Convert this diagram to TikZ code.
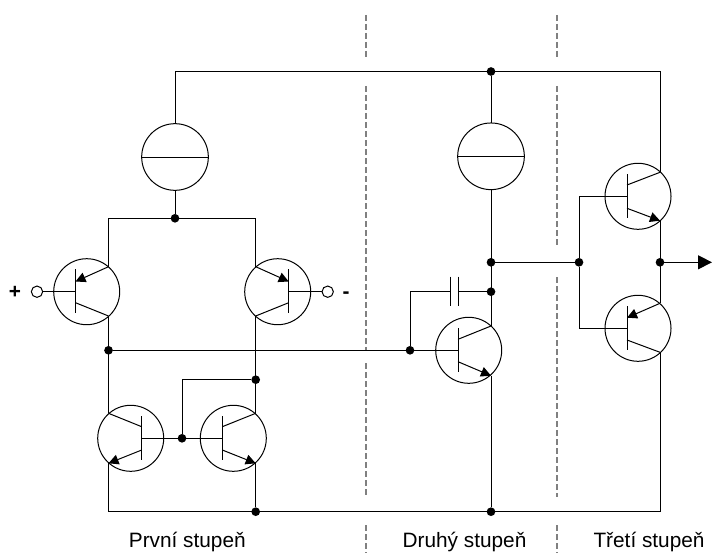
\documentclass[tikz,border=0pt]{standalone}
\usepackage{fontspec}
\setmainfont{Liberation Sans}
\usetikzlibrary{arrows.meta}
\tikzset{>={Stealth[inset=0pt,length=7.5pt,width=7.5pt]}}
\tikzset{
  wire/.style={line width=0.75pt},
  tstor/.style={draw,circle,line width=0.75pt,minimum size=49.5pt,inner sep=0pt,outer sep=0pt},
  zdroj/.style={draw,circle,line width=0.75pt,minimum size=50pt,inner sep=0pt,outer sep=0pt},
  uzel/.style={fill=black,circle,minimum size=6.5pt,inner sep=0pt,outer sep=0pt},
  svorka/.style={draw,circle,line width=0.75pt,fill=white,minimum size=8.5pt,inner sep=0pt,outer sep=0pt},
  hranice/.style={line width=1.1pt,black!50,dash pattern=on 4.5pt off 2.25pt},
  popis/.style={inner sep=0pt,anchor=base,font=\fontsize{15.6}{18}\selectfont}
}

\begin{document}
\begin{tikzpicture}[x=0.75pt,y=-0.75pt]
      \useasboundingbox (0,0) rectangle (712,556);
      % hranice stupnu
      \coordinate (d1a) at (366,15);  \coordinate (d1b) at (366,57);
      \coordinate (d1c) at (366,86);  \coordinate (d1d) at (366,351);
      \coordinate (d1e) at (366,363); \coordinate (d1f) at (366,497);
      \coordinate (d1g) at (366,525); \coordinate (d1h) at (366,553);
      \coordinate (d2a) at (557,15);  \coordinate (d2b) at (557,57);
      \coordinate (d2c) at (557,86);  \coordinate (d2d) at (557,247);
      \coordinate (d2e) at (557,277); \coordinate (d2f) at (557,497);
      \coordinate (d2g) at (557,525); \coordinate (d2h) at (557,553);
      \draw[hranice] (d1a) -- (d1b);
      \draw[hranice] (d1c) -- (d1d);
      \draw[hranice] (d1e) -- (d1f);
      \draw[hranice] (d1g) -- (d1h);
      \draw[hranice] (d2a) -- (d2b);
      \draw[hranice] (d2c) -- (d2d);
      \draw[hranice] (d2e) -- (d2f);
      \draw[hranice] (d2g) -- (d2h);
      % zdroje
      \node[zdroj] (s1) at (175,157) {};
      \draw[wire] (s1.west) -- (s1.east);
      \node[zdroj] (s2) at (491,156.3) {};
      \draw[wire] (s2.west) -- (s2.east);
      % uzly
      \node[uzel] (j1) at (175,218.3) {};
      \node[uzel] (j2) at (108.5,350.3) {};
      \node[uzel] (j3) at (255.7,379.7) {};
      \node[uzel] (j4) at (182,438.3) {};
      \node[uzel] (j5) at (255.7,511.7) {};
      \node[uzel] (j6) at (491,511.7) {};
      \node[uzel] (j7) at (491,71.5) {};
      \node[uzel] (j8) at (491,262.3) {};
      \node[uzel] (j9) at (491,291.7) {};
      \node[uzel] (j10) at (410,350.3) {};
      \node[uzel] (j11) at (579,262.3) {};
      \node[uzel] (j12) at (660,262.3) {};
      % vstup +
      \node[tstor] (q1) at (86.7,291.7) {};
      \coordinate (q1t) at (75.5,269);
      \coordinate (q1d) at (75.5,313);
      \coordinate (q1b) at (75.5,291.7);
      \coordinate (q1ei) at (75.5,281.5);
      \coordinate (q1eo) at (108.5,266.7);
      \coordinate (q1ci) at (75.5,302.7);
      \coordinate (q1co) at (108.5,316);
      \node[svorka] (in1) at (37,291.7) {};
      \node[popis] (plus) at (15,298) {\bfseries +};
      \draw[wire] (q1t) -- (q1d);
      \draw[wire,->] (q1eo) -- (q1ei);
      \draw[wire] (q1ci) -- (q1co);
      \draw[wire] (in1) -- (q1b);
      % vstup -
      \node[tstor] (q2) at (277.7,291.7) {};
      \coordinate (q2t) at (288.7,269);
      \coordinate (q2d) at (288.7,313);
      \coordinate (q2b) at (288.7,291.7);
      \coordinate (q2ei) at (288.7,281.5);
      \coordinate (q2eo) at (255.7,266.7);
      \coordinate (q2ci) at (288.7,302.7);
      \coordinate (q2co) at (255.7,316);
      \node[svorka] (in2) at (327.7,291.7) {};
      \node[popis] (minus) at (346,298.5) {\bfseries -};
      \draw[wire] (q2t) -- (q2d);
      \draw[wire,->] (q2eo) -- (q2ei);
      \draw[wire] (q2ci) -- (q2co);
      \draw[wire] (in2) -- (q2b);
      % proudove zrcadlo
      \node[tstor] (q4) at (130.7,438.3) {};
      \coordinate (q4t) at (141.7,416);
      \coordinate (q4d) at (141.7,460);
      \coordinate (q4b) at (141.7,438.3);
      \coordinate (q4ci) at (141.7,426.7);
      \coordinate (q4co) at (108.5,413.3);
      \coordinate (q4ei) at (141.7,450);
      \coordinate (q4eo) at (108.5,463.3);
      \draw[wire] (q4t) -- (q4d);
      \draw[wire] (q4ci) -- (q4co);
      \draw[wire,->] (q4ei) -- (q4eo);
      \node[tstor] (q5) at (233.3,438.3) {};
      \coordinate (q5t) at (222.3,416);
      \coordinate (q5d) at (222.3,460);
      \coordinate (q5b) at (222.3,438.3);
      \coordinate (q5ci) at (222.3,426.7);
      \coordinate (q5co) at (255.7,413.3);
      \coordinate (q5ei) at (222.3,450);
      \coordinate (q5eo) at (255.7,463.3);
      \draw[wire] (q5t) -- (q5d);
      \draw[wire] (q5ci) -- (q5co);
      \draw[wire,->] (q5ei) -- (q5eo);
      \draw[wire] (q4b) -- (q5b);
      % druhy stupen
      \node[tstor] (q3) at (468.7,350.3) {};
      \coordinate (q3t) at (458,328);
      \coordinate (q3d) at (458,372.3);
      \coordinate (q3b) at (458,350.3);
      \coordinate (q3ci) at (458,339.3);
      \coordinate (q3co) at (491,326);
      \coordinate (q3ei) at (458,361.7);
      \coordinate (q3eo) at (491,375.7);
      \draw[wire] (q3t) -- (q3d);
      \draw[wire] (q3ci) -- (q3co);
      \draw[wire,->] (q3ei) -- (q3eo);
      % kondenzator
      \coordinate (c1) at (450.7,291.7);
      \coordinate (c2) at (458,291.7);
      \coordinate (c1t) at (450.7,276.7);
      \coordinate (c1d) at (450.7,306);
      \coordinate (c2t) at (458,276.7);
      \coordinate (c2d) at (458,306);
      \draw[wire] (c1t) -- (c1d);
      \draw[wire] (c2t) -- (c2d);
      \draw[wire] (j10) |- (c1);
      \draw[wire] (c2) -- (j9);
      % treti stupen
      \node[tstor] (q6) at (638,196.3) {};
      \coordinate (q6t) at (627,174.3);
      \coordinate (q6d) at (627,218.3);
      \coordinate (q6b) at (627,196.3);
      \coordinate (q6ci) at (627,185);
      \coordinate (q6co) at (660,172.3);
      \coordinate (q6ei) at (627,208.3);
      \coordinate (q6eo) at (660,220.7);
      \draw[wire] (q6t) -- (q6d);
      \draw[wire] (q6ci) -- (q6co);
      \draw[wire,->] (q6ei) -- (q6eo);
      \node[tstor] (q7) at (638,328.3) {};
      \coordinate (q7t) at (627,306);
      \coordinate (q7d) at (627,350);
      \coordinate (q7b) at (627,328.3);
      \coordinate (q7ei) at (627,317.7);
      \coordinate (q7eo) at (660,303.3);
      \coordinate (q7ci) at (627,340);
      \coordinate (q7co) at (660,352.3);
      \draw[wire] (q7t) -- (q7d);
      \draw[wire,->] (q7eo) -- (q7ei);
      \draw[wire] (q7ci) -- (q7co);
      \coordinate (out) at (712,262.3);
      \draw[wire,-{Stealth[inset=0pt,length=10.5pt,width=10.5pt]}] (j12) -- (out);
      % vodice
      \coordinate (lt) at (108.5,218.3);
      \coordinate (rt) at (255.7,218.3);
      \coordinate (lb) at (108.5,511.7);
      \coordinate (rb) at (660,511.7);
      \coordinate (tr) at (660,71.5);
      \coordinate (tl) at (175,71.5);
      \coordinate (kz) at (182,379.7);
      \draw[wire] (s1.north) -- (tl) -- (tr) -- (q6co);
      \draw[wire] (j7) -- (s2.north);
      \draw[wire] (s1.south) -- (j1);
      \draw[wire] (q1eo) -- (lt) -- (rt) -- (q2eo);
      \draw[wire] (q1co) -- (q4co);
      \draw[wire] (q2co) -- (q5co);
      \draw[wire] (j2) -- (q3b);
      \draw[wire] (j3) -- (kz) -- (j4);
      \draw[wire] (q4eo) -- (lb) -- (rb) -- (q7co);
      \draw[wire] (q5eo) -- (j5);
      \draw[wire] (q3eo) -- (j6);
      \draw[wire] (s2.south) -- (q3co);
      \draw[wire] (j8) -- (j11);
      \draw[wire] (q6b) -| (j11);
      \draw[wire] (q7b) -| (j11);
      \draw[wire] (q6eo) -- (q7eo);
      % popisky
      \node[popis] (st1) at (187.3,547.3) {První stupeň};
      \node[popis] (st2) at (464.5,547.3) {Druhý stupeň};
      \node[popis] (st3) at (649,547.3) {Třetí stupeň};
    \end{tikzpicture}
\end{document}
